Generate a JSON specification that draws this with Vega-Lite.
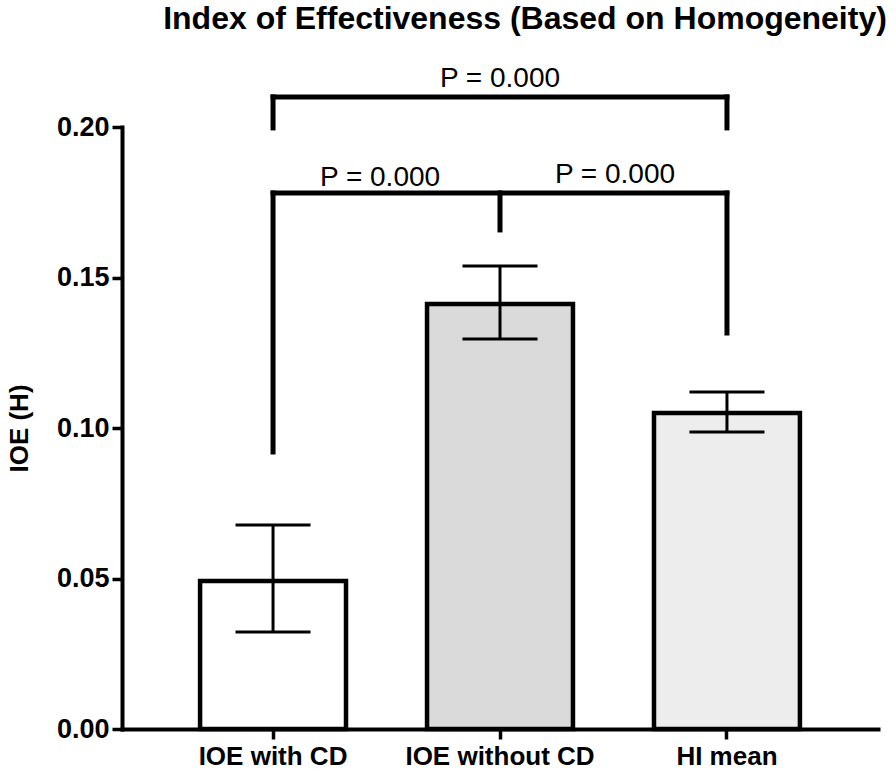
{
  "$schema": "https://vega.github.io/schema/vega-lite/v6.json",
  "width": 756,
  "height": 602,
  "autosize": {"type": "none"},
  "padding": {"left": 122, "top": 127, "right": 18, "bottom": 44},
  "background": "white",
  "config": {
    "view": {"stroke": null},
    "font": "Liberation Sans"
  },
  "title": {
    "text": "Index of Effectiveness (Based on Homogeneity)",
    "font": "Liberation Sans",
    "fontSize": 32,
    "fontWeight": "bold",
    "color": "black",
    "anchor": "middle",
    "frame": "group",
    "baseline": "alphabetic",
    "dx": 25,
    "offset": 4
  },
  "datasets": {
    "bars": [
      {"group": "IOE with CD", "mean": 0.0492, "lo": 0.0322, "hi": 0.0678},
      {"group": "IOE without CD", "mean": 0.1412, "lo": 0.1296, "hi": 0.1538},
      {"group": "HI mean", "mean": 0.1050, "lo": 0.0987, "hi": 0.1120}
    ],
    "brackets": [
      {"a": "IOE with CD", "b": "HI mean", "y1": 0.2100, "y2": 0.2100},
      {"a": "IOE with CD", "b": "IOE with CD", "y1": 0.2100, "y2": 0.1997},
      {"a": "HI mean", "b": "HI mean", "y1": 0.2100, "y2": 0.1997},
      {"a": "IOE with CD", "b": "HI mean", "y1": 0.1781, "y2": 0.1781},
      {"a": "IOE with CD", "b": "IOE with CD", "y1": 0.1781, "y2": 0.0920},
      {"a": "HI mean", "b": "HI mean", "y1": 0.1781, "y2": 0.1316},
      {"a": "IOE without CD", "b": "IOE without CD", "y1": 0.1781, "y2": 0.1658}
    ]
  },
  "encoding": {
    "x": {
      "field": "group",
      "type": "nominal",
      "sort": ["IOE with CD", "IOE without CD", "HI mean"],
      "scale": {"domain": ["IOE with CD", "IOE without CD", "HI mean"], "paddingInner": 0.357, "paddingOuter": 0.344},
      "axis": {
        "title": null,
        "labelAngle": 0,
        "labelLimit": 0,
        "labelFont": "Liberation Sans",
        "labelFontSize": 26,
        "labelFontWeight": "bold",
        "labelColor": "black",
        "labelPadding": 4,
        "domainColor": "black",
        "domainWidth": 4,
        "tickColor": "black",
        "tickWidth": 3.5,
        "tickSize": 10,
        "domainCap": "square"
      }
    }
  },
  "layer": [
    {
      "data": {"name": "bars"},
      "mark": {"type": "bar", "stroke": "black", "strokeWidth": 4.5},
      "encoding": {
        "y": {
          "field": "mean",
          "type": "quantitative",
          "scale": {"domain": [0, 0.2], "nice": false},
          "axis": {
            "title": "IOE (H)",
            "titleFont": "Liberation Sans",
            "titleFontSize": 26,
            "titleFontWeight": "bold",
            "titleColor": "black",
            "titlePadding": 24,
            "values": [0, 0.05, 0.1, 0.15, 0.2],
            "format": ".2f",
            "grid": false,
            "labelFont": "Liberation Sans",
            "labelFontSize": 27,
            "labelFontWeight": "bold",
            "labelColor": "black",
            "labelPadding": 3,
            "domainColor": "black",
            "domainWidth": 4,
            "tickColor": "black",
            "tickWidth": 3.5,
            "tickSize": 10,
            "domainCap": "square"
          }
        },
        "fill": {
          "field": "group",
          "type": "nominal",
          "scale": {"domain": ["IOE with CD", "IOE without CD", "HI mean"], "range": ["#ffffff", "#dadada", "#ededed"]},
          "legend": null
        }
      }
    },
    {
      "data": {"name": "bars"},
      "mark": {"type": "rule", "color": "black", "strokeWidth": 3},
      "encoding": {
        "y": {"field": "lo", "type": "quantitative"},
        "y2": {"field": "hi"}
      }
    },
    {
      "data": {"name": "bars"},
      "mark": {"type": "tick", "color": "black", "thickness": 3, "size": 75, "opacity": 1},
      "encoding": {
        "y": {"field": "lo", "type": "quantitative"}
      }
    },
    {
      "data": {"name": "bars"},
      "mark": {"type": "tick", "color": "black", "thickness": 3, "size": 75, "opacity": 1},
      "encoding": {
        "y": {"field": "hi", "type": "quantitative"}
      }
    },
    {
      "data": {"name": "brackets"},
      "mark": {"type": "rule", "color": "black", "strokeWidth": 5, "strokeCap": "square"},
      "encoding": {
        "x": {"field": "a", "type": "nominal", "sort": ["IOE with CD", "IOE without CD", "HI mean"]},
        "x2": {"field": "b"},
        "y": {"field": "y1", "type": "quantitative"},
        "y2": {"field": "y2"}
      }
    },
    {
      "data": {"values": [{"group": "IOE with CD", "y": 0.1804, "label": "P = 0.000"}]},
      "mark": {"type": "text", "font": "Liberation Sans", "fontSize": 28, "color": "black", "baseline": "alphabetic", "align": "center", "dx": 107},
      "encoding": {
        "y": {"field": "y", "type": "quantitative"},
        "text": {"field": "label"}
      }
    },
    {
      "data": {"values": [{"group": "HI mean", "y": 0.1814, "label": "P = 0.000"}]},
      "mark": {"type": "text", "font": "Liberation Sans", "fontSize": 28, "color": "black", "baseline": "alphabetic", "align": "center", "dx": -112},
      "encoding": {
        "y": {"field": "y", "type": "quantitative"},
        "text": {"field": "label"}
      }
    },
    {
      "data": {"values": [{"group": "IOE without CD", "y": 0.2133, "label": "P = 0.000"}]},
      "mark": {"type": "text", "font": "Liberation Sans", "fontSize": 28, "color": "black", "baseline": "alphabetic", "align": "center"},
      "encoding": {
        "y": {"field": "y", "type": "quantitative"},
        "text": {"field": "label"}
      }
    }
  ]
}
